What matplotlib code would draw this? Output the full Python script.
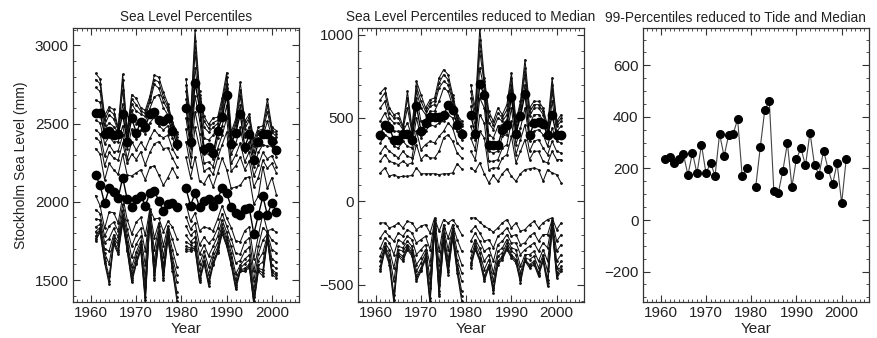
import matplotlib
matplotlib.use("Agg")
import matplotlib.pyplot as plt
from matplotlib.ticker import MultipleLocator

plt.rcParams['font.family'] = ['Liberation Sans', 'DejaVu Sans']

# years 1961-2001, no data for 1980
years = list(range(1961, 1980)) + list(range(1981, 2002))
n_first = 19

# yearly median sea level (mm)
median = [2170, 2105, 1990, 2085, 2060, 2025, 2155, 2015, 1965, 2020,
          2040, 1975, 2055, 2070, 2005, 1940, 1985, 1990, 1965,
          2085, 1975, 2055, 1965, 2005, 2015, 1975, 2020, 2085, 2055,
          1965, 1930, 1915, 1955, 1960, 1795, 1915, 2035, 1915, 1995, 1935]

# percentiles reduced to median (mm), upper band
p_max = [650, 680, 560, 520, 530, 450, 660, 440, 720, 640,
         560, 610, 620, 740, 790, 760, 640, 520, 480,
         700, 560, 1040, 740, 540, 480, 560, 520, 580, 770,
         480, 600, 850, 560, 600, 600, 560, 450, 740, 480, 520]
p999 = [610, 650, 530, 500, 500, 440, 620, 425, 690, 600,
        540, 590, 600, 710, 760, 730, 620, 510, 465,
        660, 530, 970, 720, 510, 455, 530, 500, 550, 740,
        460, 580, 800, 535, 580, 580, 540, 430, 700, 465, 500]
p995 = [560, 600, 500, 470, 470, 430, 560, 410, 660, 560,
        520, 570, 580, 680, 720, 700, 600, 500, 450,
        620, 500, 900, 700, 470, 430, 500, 480, 520, 700,
        440, 560, 760, 510, 560, 560, 520, 410, 660, 450, 480]
p992 = [480, 530, 470, 420, 420, 420, 470, 390, 620, 480,
        490, 540, 540, 600, 680, 660, 570, 490, 430,
        570, 450, 800, 670, 400, 380, 450, 460, 490, 670,
        410, 530, 700, 460, 520, 520, 490, 380, 600, 420, 450]
p99 = [400, 460, 440, 370, 365, 405, 405, 365, 570, 420,
       470, 505, 505, 505, 520, 575, 550, 460, 405,
       515, 405, 705, 635, 335, 335, 335, 430, 455, 625,
       405, 510, 645, 395, 470, 475, 465, 395, 515, 395, 395]
p98 = [350, 400, 380, 330, 320, 360, 330, 320, 500, 380,
       420, 460, 450, 470, 480, 520, 500, 420, 370,
       450, 370, 620, 560, 300, 290, 300, 390, 400, 560,
       340, 440, 560, 360, 420, 430, 400, 330, 440, 360, 350]
p95 = [290, 330, 300, 280, 260, 300, 270, 260, 420, 310,
       340, 360, 350, 390, 420, 470, 440, 350, 320,
       380, 310, 520, 470, 240, 240, 250, 320, 340, 480,
       280, 370, 460, 300, 360, 370, 320, 280, 360, 300, 290]
p93 = [240, 280, 240, 230, 220, 240, 220, 230, 340, 250,
       280, 260, 260, 300, 380, 400, 360, 290, 260,
       300, 250, 420, 380, 190, 200, 200, 260, 280, 390,
       230, 300, 370, 250, 300, 300, 240, 230, 300, 250, 250]
p90 = [170, 200, 150, 160, 145, 150, 150, 155, 200, 165,
       165, 165, 165, 160, 165, 165, 170, 225, 195,
       200, 180, 230, 165, 110, 155, 120, 165, 195, 150,
       120, 165, 190, 195, 200, 190, 120, 190, 170, 160, 110]

# lower band
p10 = [-130, -130, -160, -150, -130, -160, -120, -130, -170, -150,
       -140, -190, -100, -180, -110, -130, -110, -150, -200,
       -100, -100, -125, -150, -165, -185, -160, -130, -110, -160,
       -130, -180, -170, -140, -120, -160, -130, -110, -100, -170, -130]
p07 = [-220, -180, -210, -240, -190, -210, -170, -190, -250, -230,
       -210, -290, -115, -300, -140, -220, -140, -230, -300,
       -180, -150, -190, -240, -230, -280, -210, -190, -160, -210,
       -200, -260, -250, -210, -190, -240, -200, -200, -110, -240, -200]
p05 = [-280, -220, -250, -320, -230, -250, -210, -230, -320, -290,
       -260, -380, -130, -380, -160, -290, -160, -300, -380,
       -240, -190, -240, -300, -280, -360, -260, -240, -200, -250,
       -250, -320, -290, -270, -250, -300, -250, -280, -120, -300, -260]
p03 = [-330, -250, -290, -400, -270, -280, -240, -270, -380, -340,
       -290, -460, -140, -450, -190, -350, -180, -350, -430,
       -300, -230, -280, -360, -320, -430, -300, -280, -230, -280,
       -290, -390, -320, -320, -300, -360, -290, -360, -130, -360, -320]
p02 = [-360, -270, -320, -480, -290, -300, -260, -290, -420, -370,
       -310, -520, -150, -500, -210, -380, -190, -380, -480,
       -340, -250, -310, -410, -350, -480, -330, -310, -250, -300,
       -320, -430, -340, -350, -330, -400, -320, -420, -140, -400, -360]
p01 = [-390, -280, -350, -560, -310, -330, -270, -310, -450, -400,
       -330, -580, -160, -540, -230, -410, -200, -400, -540,
       -370, -270, -340, -450, -380, -520, -360, -330, -270, -320,
       -350, -460, -350, -380, -360, -430, -340, -470, -150, -430, -390]
p005 = [-405, -290, -365, -590, -320, -345, -280, -320, -465, -410,
        -340, -600, -165, -555, -240, -425, -210, -415, -570,
        -385, -280, -350, -465, -390, -535, -370, -340, -280, -330,
        -360, -475, -355, -390, -370, -440, -350, -490, -155, -445, -405]
p_min = [-420, -300, -380, -610, -330, -360, -290, -330, -480, -420,
         -350, -620, -170, -570, -250, -440, -220, -430, -600,
         -400, -290, -360, -480, -400, -550, -380, -350, -290, -340,
         -370, -490, -360, -400, -380, -450, -360, -510, -160, -460, -420]

# 99-percentile reduced to tide and median (mm)
p99_tide = [235, 246, 223, 236, 256, 175, 261, 181, 292, 181,
            223, 171, 334, 248, 329, 334, 391, 171, 202,
            129, 282, 427, 462, 114, 106, 192, 298, 129, 238,
            278, 212, 339, 213, 176, 269, 199, 140, 220, 65, 236]

upper_lines = [p90, p93, p95, p98, p992, p995, p999, p_max]
lower_lines = [p10, p07, p05, p03, p02, p01, p005, p_min]

TEXT = '#222222'
LINE = '#111111'


def plot_split(ax, values, **kw):
    # draw the two periods separately so the 1980 gap stays open
    ax.plot(years[:n_first], values[:n_first], **kw)
    ax.plot(years[n_first:], values[n_first:], **kw)


def style_axes(ax, ylim, major, minor):
    ax.set_xlim(1956, 2006)
    ax.set_ylim(*ylim)
    ax.xaxis.set_major_locator(MultipleLocator(10))
    ax.xaxis.set_minor_locator(MultipleLocator(1))
    ax.yaxis.set_major_locator(MultipleLocator(major))
    ax.yaxis.set_minor_locator(MultipleLocator(minor))
    ax.tick_params(which='both', direction='in', top=True, right=True,
                   labelsize=11, labelcolor=TEXT, color='#333333', pad=3)
    ax.tick_params(which='major', length=5, width=0.8)
    ax.tick_params(which='minor', length=2.5, width=0.6)
    for s in ax.spines.values():
        s.set_color('#333333')
        s.set_linewidth(0.9)
    ax.set_xlabel('Year', fontsize=11, color=TEXT, labelpad=1)


line_kw = dict(color=LINE, lw=0.75, marker='.', ms=2)
dot_kw = dict(color='black', lw=1.0, marker='o', ms=6)

fig = plt.figure(figsize=(8.78, 3.38), dpi=100)
ax1 = fig.add_axes([0.0831, 0.1065, 0.2575, 0.8107])
ax2 = fig.add_axes([0.4074, 0.1065, 0.2575, 0.8107])
ax3 = fig.add_axes([0.7320, 0.1065, 0.2575, 0.8107])

# panel 1: absolute percentiles
for line in upper_lines + lower_lines:
    plot_split(ax1, [m + v for m, v in zip(median, line)], **line_kw)
plot_split(ax1, [m + v for m, v in zip(median, p99)], **dot_kw)
plot_split(ax1, median, **dot_kw)
style_axes(ax1, (1360, 3110), 500, 100)
ax1.set_title('Sea Level Percentiles', fontsize=9.8, color=TEXT, pad=5)
ax1.set_ylabel('Stockholm Sea Level (mm)', fontsize=10, color=TEXT, labelpad=5)

# panel 2: percentiles reduced to median
for line in upper_lines + lower_lines:
    plot_split(ax2, line, **line_kw)
plot_split(ax2, p99, **dot_kw)
style_axes(ax2, (-605, 1040), 500, 100)
ax2.set_title('Sea Level Percentiles reduced to Median', fontsize=9.8,
              color=TEXT, pad=5)

# panel 3: 99-percentiles reduced to tide and median
plot_split(ax3, p99_tide, color='#444444', lw=0.8, marker='o', ms=5.5,
           mfc='black', mec='black')
style_axes(ax3, (-318, 745), 200, 50)
fig.text(735 / 878, 1 - 18 / 338, '99-Percentiles reduced to Tide and Median',
         fontsize=9.8, color=TEXT, ha='center', va='center')

fig.savefig('out.png', dpi=100)
